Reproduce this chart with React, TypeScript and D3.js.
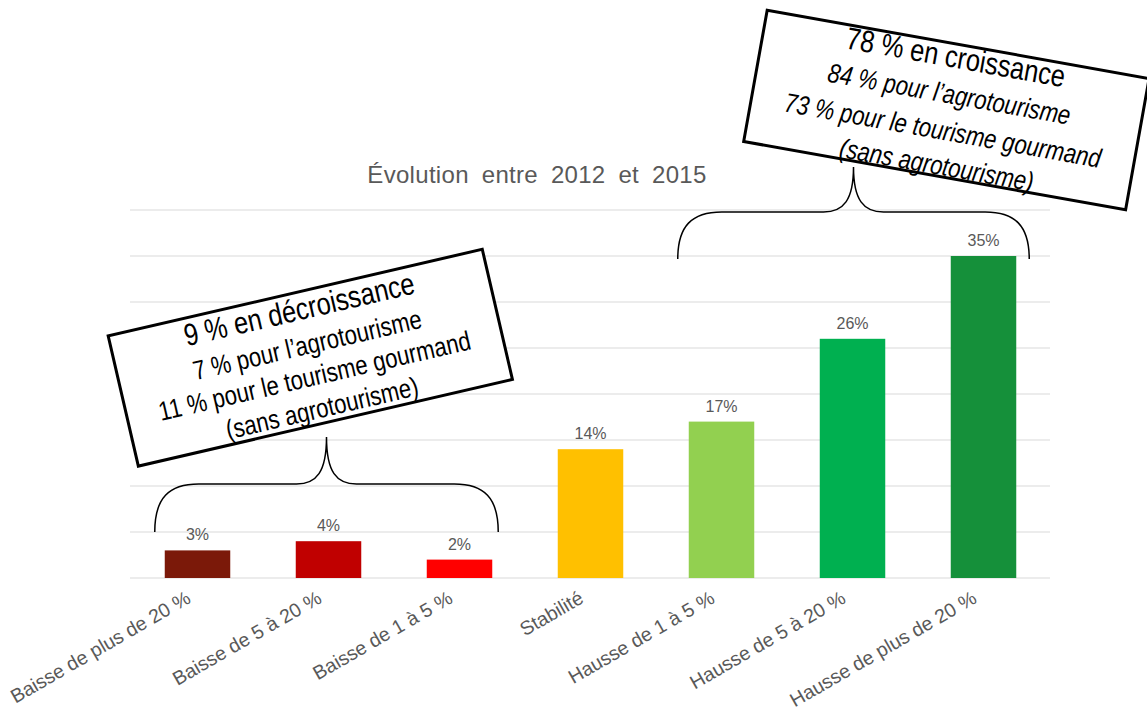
import React from "react";
import * as d3 from "d3";

const categories = [
  "Baisse de plus de 20 %",
  "Baisse de 5 à 20 %",
  "Baisse de 1 à 5 %",
  "Stabilité",
  "Hausse de 1 à 5 %",
  "Hausse de 5 à 20 %",
  "Hausse de plus de 20 %",
];
const values = [3, 4, 2, 14, 17, 26, 35];
const colors = ["#7B1909", "#C00000", "#FF0000", "#FFC000", "#92D050", "#00B050", "#15903A"];
const yTicks = [0, 5, 10, 15, 20, 25, 30, 35, 40];
const title = "Évolution entre 2012 et 2015";
const leftBoxLines = [
  "9 % en décroissance",
  "7 % pour l’agrotourisme",
  "11 % pour le tourisme gourmand",
  "(sans agrotourisme)",
];
const rightBoxLines = [
  "78 % en croissance",
  "84 % pour l’agrotourisme",
  "73 % pour le tourisme gourmand",
  "(sans agrotourisme)",
];

const W = 1147;
const H = 711;
const FONT = "'Liberation Sans', Arial, sans-serif";

function bracePath(x1: number, x2: number, yb: number, ym: number, yt: number) {
  const cx = (x1 + x2) / 2;
  return `M${x1},${yb} C${x1},${ym + 14} ${x1 + 14},${ym} ${x1 + 44},${ym} L${cx - 30},${ym} C${cx - 10},${ym} ${cx},${ym - 12} ${cx},${yt} C${cx},${ym - 12} ${cx + 10},${ym} ${cx + 30},${ym} L${x2 - 44},${ym} C${x2 - 14},${ym} ${x2},${ym + 14} ${x2},${yb}`;
}

function Box({ cx, cy, angle, w, h, lines, italic, baselines }: any) {
  return (
    <g transform={`translate(${cx},${cy}) rotate(${angle})`}>
      <rect x={-w / 2} y={-h / 2} width={w} height={h} fill="#fff" stroke="#000" strokeWidth={3} />
      {lines.map((t: string, i: number) => (
        <text
          key={i}
          transform={`translate(0,${baselines[i]}) scale(0.82,1)`}
          textAnchor="middle"
          fontFamily={FONT}
          fontSize={i === 0 ? 31 : 27}
          fontStyle={italic && i > 0 ? "italic" : "normal"}
          fill="#000"
        >
          {t}
        </text>
      ))}
    </g>
  );
}

export default function App() {
  const x = d3.scaleBand<string>().domain(categories).range([132, 1049]).paddingInner(0.5).paddingOuter(0.25);
  const y = d3.scaleLinear().domain([0, 40]).range([578, 210]);
  const bw = x.bandwidth();

  const lb = { x1: (x(categories[0]) as number) - 10, x2: (x(categories[2]) as number) + bw + 6 };
  const rb = { x1: (x(categories[4]) as number) - 11, x2: (x(categories[6]) as number) + bw + 13 };

  return (
    <svg width={W} height={H} style={{ position: "absolute", left: 0, top: 0, background: "#fff" }}>
      <rect width={W} height={H} fill="#fff" />
      {yTicks.map((t) => (
        <line key={t} x1={130} x2={1050} y1={y(t)} y2={y(t)} stroke="#D9D9D9" strokeWidth={1} />
      ))}
      <text
        x={537}
        y={183}
        textAnchor="middle"
        fontFamily={FONT}
        fontSize={24}
        fill="#595959"
        letterSpacing={0.3}
        wordSpacing={6}
      >
        {title}
      </text>
      {categories.map((c, i) => (
        <g key={c}>
          <rect x={x(c)} y={y(values[i])} width={bw} height={y(0) - y(values[i])} fill={colors[i]} />
          <text
            x={(x(c) as number) + bw / 2}
            y={y(values[i]) - 10}
            textAnchor="middle"
            fontFamily={FONT}
            fontSize={16}
            fill="#595959"
          >
            {values[i]}%
          </text>
          <text
            transform={`translate(${(x(c) as number) + bw / 2 - 9},${596}) rotate(-30)`}
            textAnchor="end"
            fontFamily={FONT}
            fontSize={19.5}
            fill="#595959"
            dy="0.35em"
          >
            {c}
          </text>
        </g>
      ))}
      <path d={bracePath(lb.x1, lb.x2, 532, 484, 437)} fill="none" stroke="#000" strokeWidth={1.5} />
      <path d={bracePath(rb.x1, rb.x2, 259, 212, 167)} fill="none" stroke="#000" strokeWidth={1.5} />
      <Box cx={310.3} cy={357.7} angle={-13.05} w={384} h={133.6} lines={leftBoxLines} italic={false} baselines={[-39, -4, 28, 61]} />
      <Box cx={946.4} cy={110} angle={10.15} w={388} h={133.4} lines={rightBoxLines} italic={true} baselines={[-43, -7, 30, 65]} />
    </svg>
  );
}
